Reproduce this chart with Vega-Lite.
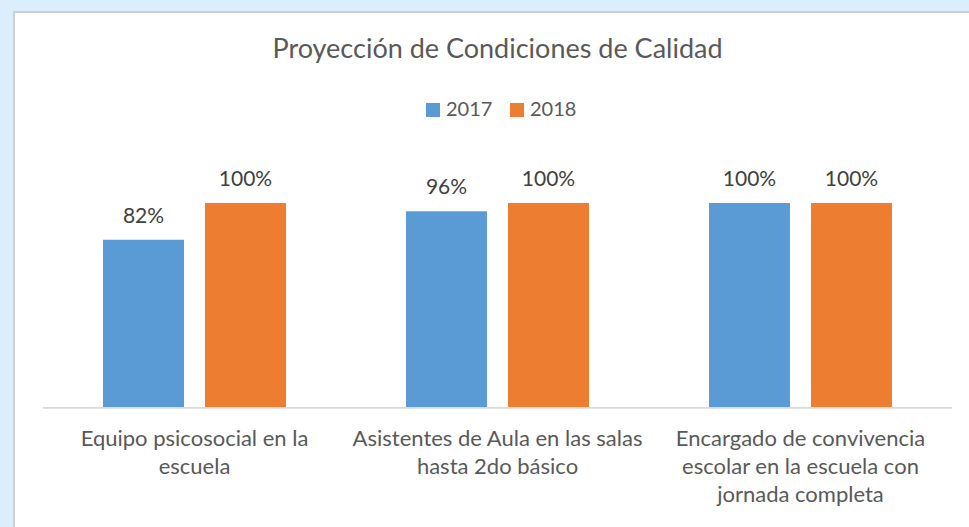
{
  "$schema": "https://vega.github.io/schema/vega-lite/v6.json",
  "width": 967,
  "height": 520,
  "autosize": {"type": "none"},
  "padding": {"left": 14, "top": 12, "right": 0, "bottom": 0},
  "background": "#DCEEFC",
  "title": {
    "text": "Proyección de Condiciones de Calidad",
    "anchor": "middle",
    "offset": -73,
    "baseline": "alphabetic",
    "font": "Lato",
    "fontSize": 27,
    "fontWeight": "normal",
    "color": "#595959"
  },
  "config": {
    "view": {"fill": "white", "stroke": "#CFCFCF", "strokeWidth": 2},
    "font": "Lato"
  },
  "data": {
    "values": [
      {"categoria": "Equipo psicosocial en la escuela", "anio": "2017", "valor": 0.82},
      {"categoria": "Equipo psicosocial en la escuela", "anio": "2018", "valor": 1.0},
      {"categoria": "Asistentes de Aula en las salas hasta 2do básico", "anio": "2017", "valor": 0.96},
      {"categoria": "Asistentes de Aula en las salas hasta 2do básico", "anio": "2018", "valor": 1.0},
      {"categoria": "Encargado de convivencia escolar en la escuela con jornada completa", "anio": "2017", "valor": 1.0},
      {"categoria": "Encargado de convivencia escolar en la escuela con jornada completa", "anio": "2018", "valor": 1.0}
    ]
  },
  "layer": [
    {
      "mark": {"type": "bar", "color": "#D9D9D9", "width": {"band": 1.656}},
      "encoding": {
        "x": {
          "field": "categoria",
          "type": "nominal",
          "sort": null,
          "scale": {"paddingInner": 0.396, "paddingOuter": 0.2937},
          "axis": {
            "title": null,
            "orient": "bottom",
            "offset": -125,
            "domain": false,
            "ticks": false,
            "tickSize": 0,
            "labelAngle": 0,
            "labelPadding": 21,
            "labelBaseline": "top",
            "labelLineHeight": 28,
            "labelFontSize": 22,
            "labelColor": "#595959",
            "labelLimit": 400,
            "labelExpr": "datum.value == 'Equipo psicosocial en la escuela' ? ['Equipo psicosocial en la', 'escuela'] : datum.value == 'Asistentes de Aula en las salas hasta 2do básico' ? ['Asistentes de Aula en las salas', 'hasta 2do básico'] : ['Encargado de convivencia', 'escolar en la escuela con', 'jornada completa']"
          }
        },
        "y": {
          "datum": 0,
          "type": "quantitative",
          "scale": {"domain": [-0.6127, 1.9363], "nice": false, "zero": false},
          "axis": null
        },
        "y2": {"datum": -0.0074}
      }
    },
    {
      "mark": {"type": "bar"},
      "encoding": {
        "x": {"field": "categoria", "type": "nominal", "sort": null},
        "xOffset": {"field": "anio", "type": "nominal", "scale": {"paddingInner": 0.206, "paddingOuter": 0}},
        "y": {"field": "valor", "type": "quantitative"},
        "y2": {"datum": 0},
        "color": {
          "field": "anio",
          "type": "nominal",
          "scale": {"domain": ["2017", "2018"], "range": ["#5B9BD5", "#ED7D31"]},
          "legend": {
            "orient": "none",
            "legendX": 409,
            "legendY": 88,
            "direction": "horizontal",
            "title": null,
            "symbolType": "square",
            "symbolSize": 196,
            "symbolStrokeWidth": 0,
            "labelFontSize": 20,
            "labelColor": "#595959",
            "labelOffset": 3,
            "columnPadding": 14,
            "padding": 0
          }
        }
      }
    },
    {
      "mark": {"type": "text", "baseline": "alphabetic", "dy": -17, "fontSize": 21, "color": "#404040"},
      "encoding": {
        "x": {"field": "categoria", "type": "nominal", "sort": null},
        "xOffset": {"field": "anio", "type": "nominal"},
        "y": {"field": "valor", "type": "quantitative"},
        "text": {"field": "valor", "type": "quantitative", "format": ".0%"}
      }
    }
  ]
}
